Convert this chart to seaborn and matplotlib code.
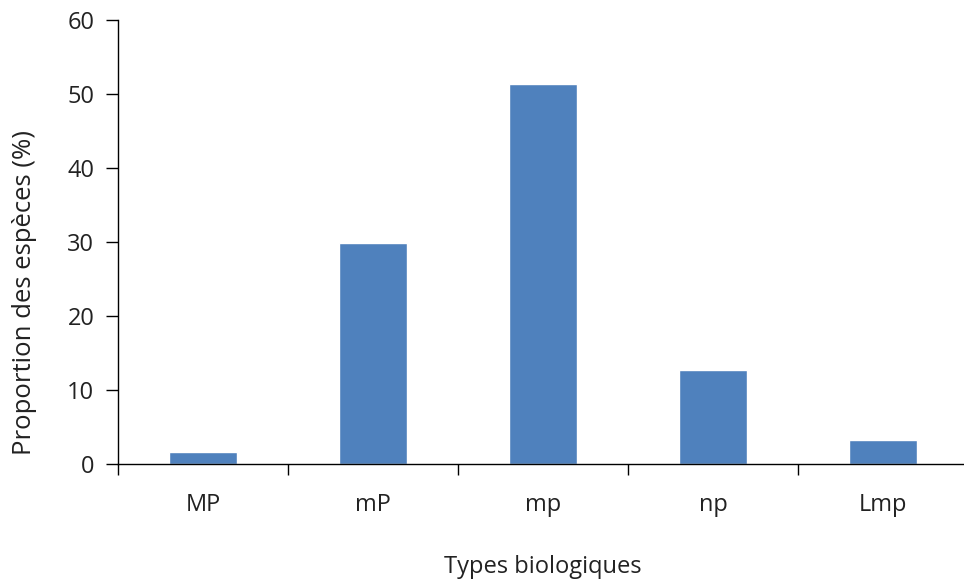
import matplotlib
matplotlib.use('Agg')
import matplotlib.pyplot as plt
import seaborn as sns
import pandas as pd
import numpy as np

# data
types = ['MP', 'mP', 'mp', 'np', 'Lmp']
proportions = [1.6, 29.8, 51.3, 12.7, 3.2]

df = pd.DataFrame({'Type': types, 'Proportion': proportions})

sns.set_style('white')
plt.rcParams['font.family'] = ['Open Sans', 'DejaVu Sans']

fig = plt.figure(figsize=(9.64, 5.84), dpi=100)
ax = fig.add_axes([118/964, 120/584, 850/964, 444/584])

sns.barplot(data=df, x='Type', y='Proportion', color='#4F81BD', saturation=1,
            width=0.4, ax=ax)

ax.set_xlim(-0.5, len(types) - 0.5)
ax.set_ylim(0, 60)
ax.set_yticks(range(0, 61, 10))

# Excel-like ticks between categories
ax.set_xticks(np.arange(-0.5, len(types), 1), minor=True)
ax.tick_params(axis='x', which='major', bottom=False, length=0, pad=21,
               labelsize=17, labelcolor='#222222')
ax.tick_params(axis='x', which='minor', bottom=True, length=8, width=1,
               direction='out', color='black')
ax.tick_params(axis='y', left=True, length=9, width=1, direction='out',
               color='black', pad=8, labelsize=17, labelcolor='#222222')

for s in ['top', 'right']:
    ax.spines[s].set_visible(False)
for s in ['left', 'bottom']:
    ax.spines[s].set_color('black')
    ax.spines[s].set_linewidth(1)

ax.set_xlabel('Types biologiques', fontsize=17, color='#222222', va='center')
ax.set_ylabel('Proportion des espèces (%)', fontsize=18.5, color='#222222', va='center')
ax.xaxis.set_label_coords(0.5, -0.232)
ax.yaxis.set_label_coords(-0.110, 0.387)

fig.savefig('out.png', dpi=100)
